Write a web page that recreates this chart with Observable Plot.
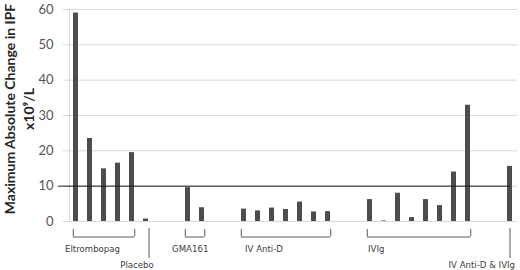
<!DOCTYPE html>
<html><head><meta charset="utf-8">
<script src="https://cdn.jsdelivr.net/npm/d3@7"></script>
<script src="https://cdn.jsdelivr.net/npm/@observablehq/plot@0.6"></script>
<style>
  html,body{margin:0;padding:0;background:#fff}
  #chart{width:520px;height:270px}
</style>
</head><body><div id="chart"></div>
<script>
// ---- data ----
const groupNames = ["Eltrombopag", "Placebo", "GMA161", "IV Anti-D", "IVIg", "IV Anti-D & IVIg"];
const eltrombopag = [59.0, 23.5, 14.9, 16.5, 19.5];
const placebo = [0.7];
const gma161 = [9.6, 3.9];
const ivAntiD = [3.5, 3.0, 3.8, 3.4, 5.5, 2.7, 2.8];
const ivig = [6.2, 0.15, 8.0, 1.1, 6.2, 4.5, 14.0, 32.9];
const ivAntiDIvig = [15.6];
const emptySlotsBefore = [0, 0, 2, 2, 2, 2];
const threshold = 10;
const yTicks = [0, 10, 20, 30, 40, 50, 60];
const yTitle = "Maximum Absolute Change in IPF\nx10⁹/L";

// ---- build table ----
const groupValues = [eltrombopag, placebo, gma161, ivAntiD, ivig, ivAntiDIvig];
const bars = [];
const groups = [];
let slot = 0;
groupValues.forEach((vals, g) => {
  slot += emptySlotsBefore[g];
  const first = slot;
  vals.forEach(v => bars.push({slot: slot++, value: v, group: groupNames[g]}));
  groups.push({name: groupNames[g], first, last: slot - 1, n: vals.length});
});
const nSlots = slot;
const bracketGroups = groups.filter(d => d.n > 1);
const singleGroups = groups.filter(d => d.n === 1);
const bracketLeft = bracketGroups.map(d => ({slot: d.first}));
const bracketRight = bracketGroups.map(d => ({slot: d.last}));

// ---- styling / layout (not data) ----
const labelLayout = {
  "Eltrombopag":      {at: "first", anchor: "start",  dx: -11, row: 0},
  "Placebo":          {at: "first", anchor: "middle", dx: -9,  row: 1},
  "GMA161":           {at: "first", anchor: "start",  dx: -16, row: 0},
  "IV Anti-D":        {at: "first", anchor: "start",  dx: 1,   row: 0},
  "IVIg":             {at: "first", anchor: "start",  dx: -2,  row: 0},
  "IV Anti-D & IVIg": {at: "last",  anchor: "end",    dx: 5,   row: 1}
};
const singleDx = {"Placebo": 3, "IV Anti-D & IVIg": 0};
const rowDy = [30, 46.5];
const barColor = "#4d4d4d";
const gridColor = "#d9d9d9";
const annColor = "#595959";
const labelFont = "DejaVu Sans";
const halfBand = 14 * 0.39 / 2;

const labelMarks = groups.map(g => {
  const L = labelLayout[g.name];
  return Plot.text([g], {
    x: d => d[L.at], y: () => 0, text: "name",
    textAnchor: L.anchor, lineAnchor: "bottom",
    dx: L.dx, dy: rowDy[L.row],
    fontFamily: labelFont, fontSize: 8.6, fill: "#404040"
  });
});
const singleMarks = singleGroups.map(g => Plot.ruleX([g], {
  x: "first", y1: () => 0, y2: () => 0,
  insetTop: 7, insetBottom: -37, dx: singleDx[g.name],
  stroke: annColor, strokeWidth: 1
}));

const chart = Plot.plot({
  width: 520, height: 270,
  marginLeft: 69, marginRight: 3, marginTop: 9, marginBottom: 49,
  style: {fontFamily: "Lato", fontSize: "12.5px", background: "#fff", color: "#595959"},
  x: {type: "band", domain: d3.range(nSlots), paddingInner: 0.61, paddingOuter: 0.305, axis: null},
  y: {domain: [0, 60], axis: null},
  marks: [
    Plot.gridY(yTicks, {stroke: gridColor, strokeOpacity: 1, insetLeft: -6}),
    Plot.frame({anchor: "left", stroke: gridColor}),
    Plot.axisY(yTicks, {tickSize: 0, tickPadding: 16, fill: "#555", fontSize: 13, label: null}),
    Plot.barY(bars, {x: "slot", y: "value", fill: barColor}),
    Plot.ruleY([threshold], {stroke: "#1a1a1a", strokeWidth: 1, insetLeft: -11, insetRight: 7}),
    Plot.ruleY(bracketGroups, {x1: "first", x2: "last", y: () => 0, dy: 15.5, stroke: annColor}),
    Plot.ruleX(bracketLeft, {x: "slot", y1: () => 0, y2: () => 0, insetTop: 8, insetBottom: -15.5, dx: -halfBand, stroke: annColor}),
    Plot.ruleX(bracketRight, {x: "slot", y1: () => 0, y2: () => 0, insetTop: 8, insetBottom: -15.5, dx: halfBand, stroke: annColor}),
    ...singleMarks,
    ...labelMarks,
    Plot.text([yTitle], {
      text: d => d, frameAnchor: "left", rotate: -90, textAnchor: "middle",
      dx: -51, dy: -6.5, lineAnchor: "middle", lineHeight: 1.32,
      fontFamily: "Lato", fontWeight: "bold", fontSize: 14, fill: "#262626"
    })
  ]
});
document.getElementById("chart").appendChild(chart);
</script>
</body></html>
